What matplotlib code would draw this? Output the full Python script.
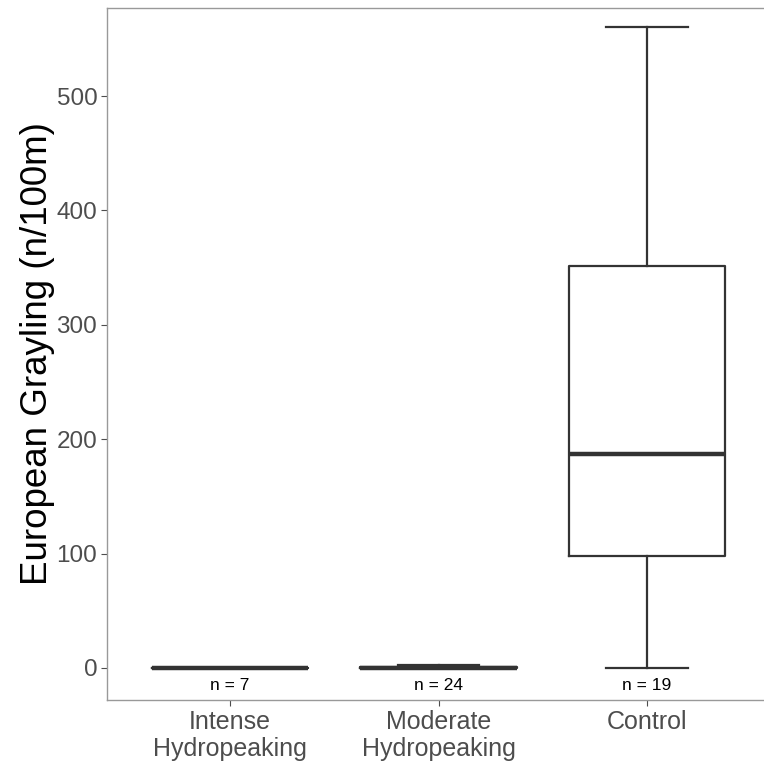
import matplotlib
matplotlib.use("Agg")
import matplotlib.pyplot as plt

categories = ["Intense\nHydropeaking", "Moderate\nHydropeaking", "Control"]
whisker_low = [0, 0, 0]
q1 = [0, 0, 98]
median = [0, 0, 187]
q3 = [0, 1, 351]
whisker_high = [0, 2.6, 560]
n_obs = [7, 24, 19]
yticks = [0, 100, 200, 300, 400, 500]

plt.rcParams['font.family'] = ['Liberation Sans', 'DejaVu Sans']

fig = plt.figure(figsize=(7.64, 7.63), dpi=100)
ax = fig.add_axes([107/764, 1-700/763, (770-107)/764, (700-8)/763])

stats = []
for i, c in enumerate(categories):
    stats.append(dict(label=c, whislo=whisker_low[i], q1=q1[i], med=median[i],
                      q3=q3[i], whishi=whisker_high[i], fliers=[]))
pos = list(range(1, len(categories) + 1))
lc = '#333333'
ax.bxp(stats, positions=pos, widths=0.75, capwidths=0.39, showfliers=False,
       boxprops=dict(color=lc, linewidth=1.6),
       whiskerprops=dict(color=lc, linewidth=1.6),
       capprops=dict(color=lc, linewidth=1.6),
       medianprops=dict(color=lc, linewidth=3.2, solid_capstyle='butt'))

for i, n in enumerate(n_obs):
    ax.text(pos[i], -15, f"n = {n}", ha='center', va='center', fontsize=12.5, color='black')

ax.set_xlim(0.41, 3.59)
ax.set_ylim(-28, 577)
ax.set_yticks(yticks)
ax.set_xticks(pos)
ax.set_xticklabels(categories, linespacing=1.15)
ax.tick_params(axis='both', colors='#4D4D4D', labelcolor='#4D4D4D', labelsize=17.5,
               length=4, width=0.8, pad=3)
ax.tick_params(axis='x', labelsize=18)
for s in ax.spines.values():
    s.set_color('#999999')
    s.set_linewidth(1.0)
ax.set_ylabel("European Grayling (n/100m)", fontsize=26.5, color='black', labelpad=1)

fig.savefig("out.png", dpi=100)
